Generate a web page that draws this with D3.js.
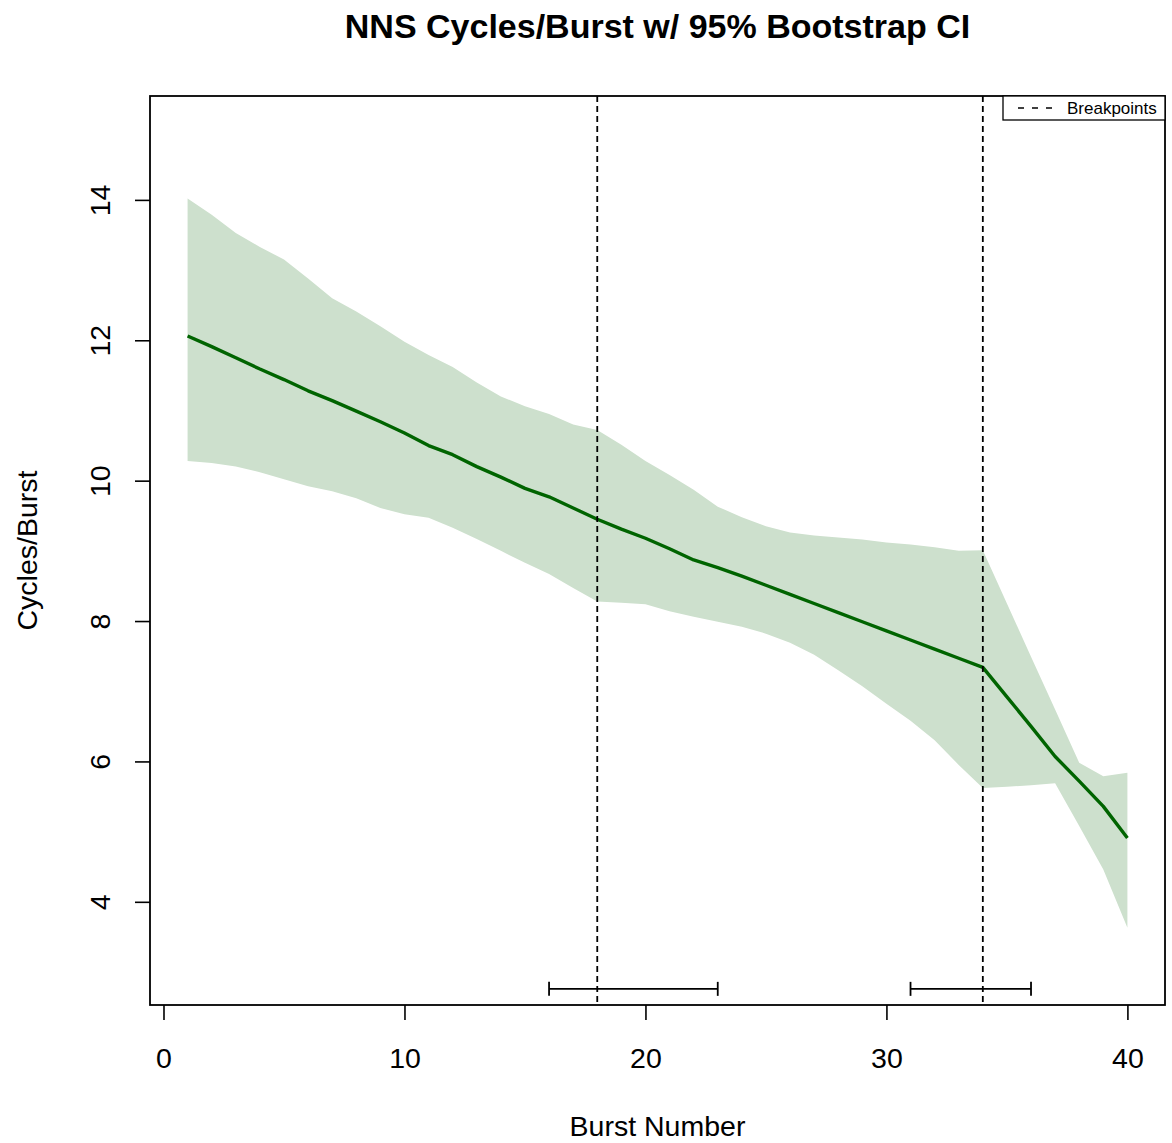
<!DOCTYPE html>
<html>
<head>
<meta charset="utf-8">
<script src="https://cdn.jsdelivr.net/npm/d3@7"></script>
<style>
  body { margin: 0; background: #fff; }
  text { font-family: "Liberation Sans", Arial, Helvetica, sans-serif; }
</style>
</head>
<body>
<div id="chart"></div>
<script>
// burst number and the bootstrap mean / 95% band
var burst = [1, 2, 3, 4, 5, 6, 7, 8, 9, 10, 11, 12, 13, 14, 15, 16, 17, 18, 19, 20,
    21, 22, 23, 24, 25, 26, 27, 28, 29, 30, 31, 32, 33, 34, 35, 36, 37, 38, 39, 40];
var meanVals = [12.06, 11.91, 11.75, 11.59, 11.44, 11.28, 11.14, 10.99, 10.84, 10.68,
    10.50, 10.37, 10.20, 10.05, 9.89, 9.77, 9.61, 9.45, 9.31, 9.18,
    9.03, 8.87, 8.76, 8.64, 8.51, 8.38, 8.25, 8.12, 7.99, 7.86,
    7.73, 7.60, 7.47, 7.34, 6.92, 6.50, 6.07, 5.72, 5.36, 4.91];
var upperVals = [14.02, 13.79, 13.53, 13.33, 13.15, 12.88, 12.60, 12.41, 12.20, 11.98,
    11.79, 11.62, 11.40, 11.20, 11.06, 10.95, 10.80, 10.72, 10.51, 10.28,
    10.08, 9.87, 9.63, 9.48, 9.35, 9.26, 9.22, 9.19, 9.16, 9.12,
    9.09, 9.05, 9.00, 9.01, 8.25, 7.49, 6.74, 5.98, 5.79, 5.84];
var lowerVals = [10.28, 10.25, 10.20, 10.12, 10.02, 9.92, 9.85, 9.75, 9.61, 9.52,
    9.47, 9.33, 9.17, 9.00, 8.83, 8.67, 8.47, 8.28, 8.26, 8.24,
    8.14, 8.06, 7.99, 7.92, 7.82, 7.69, 7.52, 7.30, 7.07, 6.82,
    6.58, 6.30, 5.95, 5.62, 5.64, 5.66, 5.69, 5.08, 4.46, 3.63];

var breakpoints = [18, 34];
var breakLo = [16, 31];
var breakHi = [23, 36];
var breakBarY = 2.76;

var xTicks = [0, 10, 20, 30, 40];
var yTicks = [4, 6, 8, 10, 12, 14];

var W = 1172, H = 1143;
var margin = { top: 96, right: 7, bottom: 138, left: 150 };
var midX = (margin.left + W - margin.right) / 2;

var svg = d3.select("#chart")
    .append("svg")
    .attr("width", W)
    .attr("height", H);

var x = d3.scaleLinear()
    .domain([-0.56, 41.56])
    .range([margin.left, W - margin.right]);

var y = d3.scaleLinear()
    .domain([2.53, 15.48])
    .range([H - margin.bottom, margin.top]);

var data = burst.map(function(b, i) {
    return { b: b, m: meanVals[i], lo: lowerVals[i], hi: upperVals[i] };
});

// CI band
svg.append("path")
    .datum(data)
    .attr("fill", "#cde0cd")
    .attr("d", d3.area()
        .x(function(d) { return x(d.b); })
        .y0(function(d) { return y(d.lo); })
        .y1(function(d) { return y(d.hi); }));

// mean line
svg.append("path")
    .datum(data)
    .attr("fill", "none")
    .attr("stroke", "#006400")
    .attr("stroke-width", 3.4)
    .attr("stroke-linejoin", "round")
    .attr("d", d3.line()
        .x(function(d) { return x(d.b); })
        .y(function(d) { return y(d.m); }));

// breakpoint lines
svg.selectAll(".bp")
    .data(breakpoints)
    .enter()
    .append("line")
    .attr("x1", function(d) { return x(d); })
    .attr("x2", function(d) { return x(d); })
    .attr("y1", margin.top)
    .attr("y2", H - margin.bottom)
    .attr("stroke", "#000")
    .attr("stroke-width", 1.8)
    .attr("stroke-dasharray", "6,4");

// breakpoint intervals
var bars = svg.selectAll(".bar")
    .data(breakLo)
    .enter()
    .append("g");
bars.append("line")
    .attr("x1", function(d) { return x(d); })
    .attr("x2", function(d, i) { return x(breakHi[i]); })
    .attr("y1", y(breakBarY)).attr("y2", y(breakBarY))
    .attr("stroke", "#000").attr("stroke-width", 1.8);
bars.append("line")
    .attr("x1", function(d) { return x(d); })
    .attr("x2", function(d) { return x(d); })
    .attr("y1", y(breakBarY) - 7).attr("y2", y(breakBarY) + 7)
    .attr("stroke", "#000").attr("stroke-width", 1.8);
bars.append("line")
    .attr("x1", function(d, i) { return x(breakHi[i]); })
    .attr("x2", function(d, i) { return x(breakHi[i]); })
    .attr("y1", y(breakBarY) - 7).attr("y2", y(breakBarY) + 7)
    .attr("stroke", "#000").attr("stroke-width", 1.8);

// plot box
svg.append("rect")
    .attr("x", margin.left)
    .attr("y", margin.top)
    .attr("width", W - margin.right - margin.left)
    .attr("height", H - margin.bottom - margin.top)
    .attr("fill", "none")
    .attr("stroke", "#000")
    .attr("stroke-width", 1.8);

// x axis
var gx = svg.append("g")
    .attr("transform", "translate(0," + (H - margin.bottom) + ")")
    .call(d3.axisBottom(x).tickValues(xTicks).tickSize(15).tickSizeOuter(0).tickPadding(28));
gx.select(".domain").remove();
gx.selectAll(".tick line").attr("stroke", "#000").attr("stroke-width", 1.6);
gx.selectAll(".tick text")
    .attr("fill", "#000")
    .style("font-size", "28.5px")
    .style("font-family", "'Liberation Sans', Arial, sans-serif");

// y axis
var gy = svg.append("g")
    .attr("transform", "translate(" + margin.left + ",0)")
    .call(d3.axisLeft(y).tickValues(yTicks).tickSize(15).tickSizeOuter(0));
gy.select(".domain").remove();
gy.selectAll(".tick line").attr("stroke", "#000").attr("stroke-width", 1.6);
gy.selectAll(".tick text")
    .attr("fill", "#000")
    .attr("x", 0).attr("y", 0).attr("dy", null)
    .attr("text-anchor", "middle")
    .attr("transform", "translate(-40,0) rotate(-90)")
    .style("font-size", "28.5px")
    .style("font-family", "'Liberation Sans', Arial, sans-serif");

// labels
svg.append("text")
    .attr("x", midX).attr("y", 1136)
    .attr("text-anchor", "middle")
    .style("font-size", "28.5px")
    .text("Burst Number");

svg.append("text")
    .attr("transform", "translate(37," + ((margin.top + H - margin.bottom) / 2) + ") rotate(-90)")
    .attr("text-anchor", "middle")
    .style("font-size", "28.5px")
    .text("Cycles/Burst");

// title
svg.append("text")
    .attr("x", midX).attr("y", 38)
    .attr("text-anchor", "middle")
    .style("font-size", "34px")
    .style("font-weight", "bold")
    .text("NNS Cycles/Burst w/ 95% Bootstrap CI");

// legend
var lg = svg.append("g");
lg.append("rect")
    .attr("x", 1003).attr("y", margin.top)
    .attr("width", W - margin.right - 1003).attr("height", 24)
    .attr("fill", "#fff").attr("stroke", "#000").attr("stroke-width", 1.3);
lg.append("line")
    .attr("x1", 1018).attr("x2", 1056)
    .attr("y1", margin.top + 12).attr("y2", margin.top + 12)
    .attr("stroke", "#000").attr("stroke-width", 1.3)
    .attr("stroke-dasharray", "6,8");
lg.append("text")
    .attr("x", 1067).attr("y", margin.top + 18)
    .style("font-size", "17px")
    .text("Breakpoints");
</script>
</body>
</html>
